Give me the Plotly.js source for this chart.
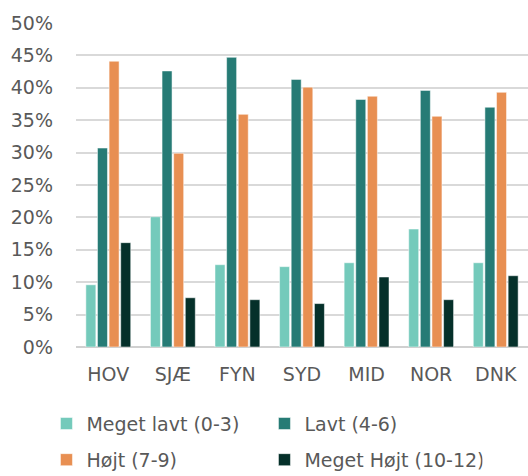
<!DOCTYPE html>
<html>
<head>
<meta charset="utf-8">
<script src="https://cdn.plot.ly/plotly-3.0.1.min.js"></script>
<style>html,body{margin:0;padding:0;background:#fff;}#chart{width:528px;height:476px;}</style>
</head>
<body>
<div id="chart"></div>
<script>
const categories = ["HOV", "SJÆ", "FYN", "SYD", "MID", "NOR", "DNK"];
const seriesNames = ["Meget lavt (0-3)", "Lavt (4-6)", "Højt (7-9)", "Meget Højt (10-12)"];
const megetLavt = [9.6, 20.1, 12.7, 12.4, 13.0, 18.2, 13.0];
const lavt = [30.7, 42.6, 44.7, 41.3, 38.2, 39.6, 37.0];
const hoejt = [44.1, 29.9, 35.9, 40.1, 38.7, 35.6, 39.3];
const megetHoejt = [16.1, 7.6, 7.3, 6.7, 10.8, 7.3, 11.0];
const yTicks = [0, 5, 10, 15, 20, 25, 30, 35, 40, 45, 50];

const colors = ["#74cabb", "#267b75", "#e88f52", "#05302a"];
const values = [megetLavt, lavt, hoejt, megetHoejt];
const legends = ["legend", "legend", "legend2", "legend2"];
const FONT = "DejaVu Sans, sans-serif";

const traces = values.map((v, i) => ({
  type: "bar",
  name: seriesNames[i],
  x: categories,
  y: v,
  marker: {color: colors[i], line: {color: "#ffffff", width: 0.5}},
  legend: legends[i],
  hoverinfo: "x+y+name"
}));

const legendCommon = {
  orientation: "h",
  xanchor: "left",
  yanchor: "middle",
  xref: "container",
  yref: "container",
  x: 0.088,
  font: {family: FONT, size: 19, color: "#595959"},
  entrywidth: 173,
  entrywidthmode: "pixels",
  bgcolor: "rgba(0,0,0,0)",
  itemclick: false
};

const layout = {
  width: 528,
  height: 476,
  margin: {l: 76, r: 0, t: 23, b: 129},
  paper_bgcolor: "#ffffff",
  plot_bgcolor: "#ffffff",
  barmode: "group",
  bargap: 0.28,
  bargroupgap: 0.14,
  font: {family: FONT, color: "#595959"},
  xaxis: {
    type: "category",
    tickfont: {family: FONT, size: 19, color: "#595959"},
    ticks: "",
    showgrid: false,
    showline: false,
    ticklabelstandoff: 14
  },
  yaxis: {
    range: [0, 50],
    tickvals: yTicks,
    ticktext: yTicks.map(t => t + "%"),
    tickfont: {family: FONT, size: 19, color: "#595959"},
    showgrid: true,
    gridcolor: "#d9d9d9",
    gridwidth: 2,
    zeroline: true,
    zerolinecolor: "#d0d0d0",
    zerolinewidth: 2,
    ticks: "",
    ticklabelstandoff: 22,
    fixedrange: true
  },
  legend: Object.assign({}, legendCommon, {y: 0.11}),
  legend2: Object.assign({}, legendCommon, {y: 0.034}),
  showlegend: true
};

Plotly.newPlot("chart", traces, layout, {displayModeBar: false, staticPlot: true});
</script>
</body>
</html>
